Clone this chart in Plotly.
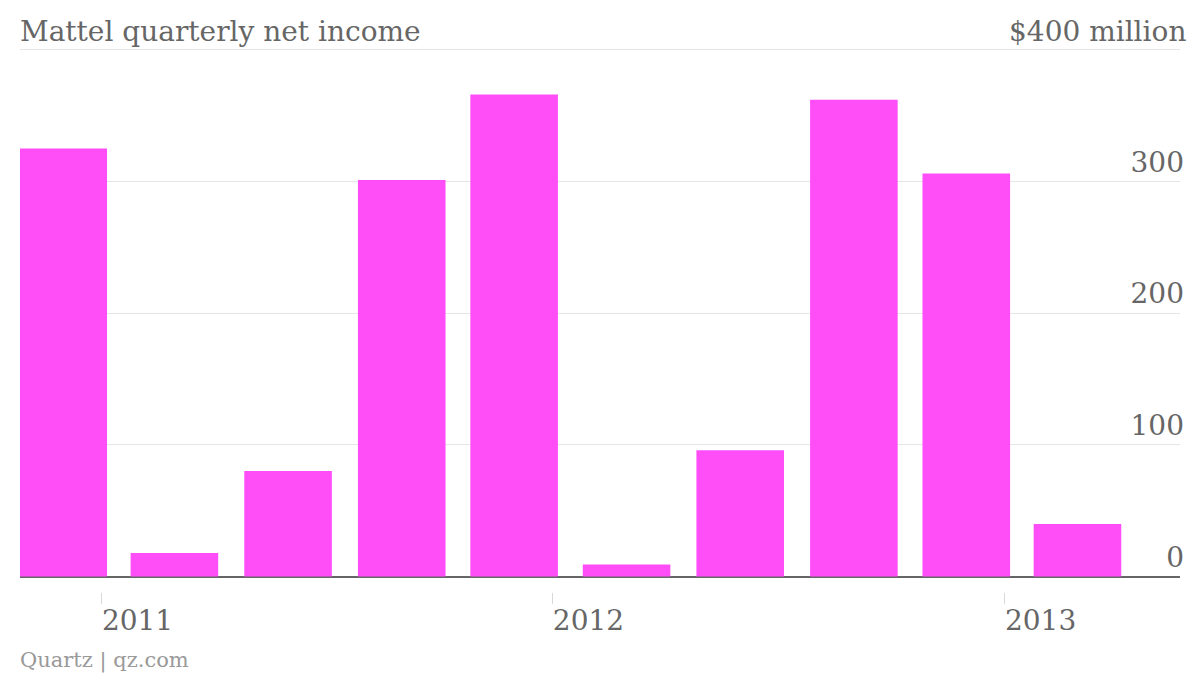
import plotly.graph_objects as go

quarters = ["2010-12-01", "2011-03-01", "2011-06-01", "2011-09-01", "2011-12-01",
            "2012-03-01", "2012-06-01", "2012-09-01", "2012-12-01", "2013-03-01"]
net_income = [325, 17.9, 80.1, 301, 366, 9.1, 95.8, 362, 306, 39.8]

y_tickvals = [0, 100, 200, 300, 400]
y_ticktext = ["0", "100", "200", "300", ""]
y_top_label = "$400 million"
x_tickvals = ["2011-01-01", "2012-01-01", "2013-01-01"]
x_ticktext = ["2011", "2012", "2013"]

FONT = "DejaVu Serif"
BAR_COLOR = "#ff4ef8"
TEXT_COLOR = "#666666"

day_ms = 86400000
fig = go.Figure()
fig.add_trace(go.Bar(
    x=quarters, y=net_income,
    width=70.9 * day_ms,
    marker=dict(color=BAR_COLOR, line=dict(width=0)),
    hoverinfo="x+y",
))

fig.update_layout(
    width=1200, height=676,
    margin=dict(l=20, r=20, t=48, b=84, autoexpand=False),
    paper_bgcolor="white", plot_bgcolor="white",
    showlegend=False,
    font=dict(family=FONT, color=TEXT_COLOR, size=28),
    xaxis=dict(
        type="date",
        range=["2010-10-27", "2013-05-23"],
        tickvals=x_tickvals, ticktext=x_ticktext,
        ticks="outside", ticklen=11, tickcolor="#d8d8d8", tickwidth=1,
        ticklabelshift=36, ticklabelstandoff=-8,
        showgrid=False, showline=False, zeroline=False, automargin=False,
        tickfont=dict(family=FONT, size=28, color=TEXT_COLOR),
    ),
    yaxis=dict(
        side="right",
        range=[-11.76, 401.3],
        tickvals=y_tickvals, ticktext=y_ticktext,
        ticklabelposition="inside top",
        ticklabelstandoff=-7,
        ticks="", automargin=False,
        showgrid=True, gridcolor="#e5e5e5", gridwidth=1,
        zeroline=True, zerolinecolor="#666666", zerolinewidth=2,
        showline=False,
        tickfont=dict(family=FONT, size=28, color=TEXT_COLOR),
    ),
    annotations=[
        dict(text="Mattel quarterly net income", xref="paper", yref="paper",
             x=0, y=1, xanchor="left", yanchor="bottom", yshift=-2, showarrow=False,
             xshift=-2,
             font=dict(family=FONT, size=28, color=TEXT_COLOR)),
        dict(text=y_top_label, xref="paper", yref="paper",
             x=1, y=1, xanchor="right", yanchor="bottom", yshift=-2, showarrow=False,
             xshift=8,
             font=dict(family=FONT, size=28, color=TEXT_COLOR)),
        dict(text="Quartz | qz.com", xref="paper", yref="paper",
             x=0, y=0, xanchor="left", yanchor="top", yshift=-54, showarrow=False,
             xshift=-2,
             font=dict(family=FONT, size=21, color="#999999")),
    ],
)

fig.write_html("out.html", config={"displayModeBar": False},
               post_script="document.body.style.margin='0';")
